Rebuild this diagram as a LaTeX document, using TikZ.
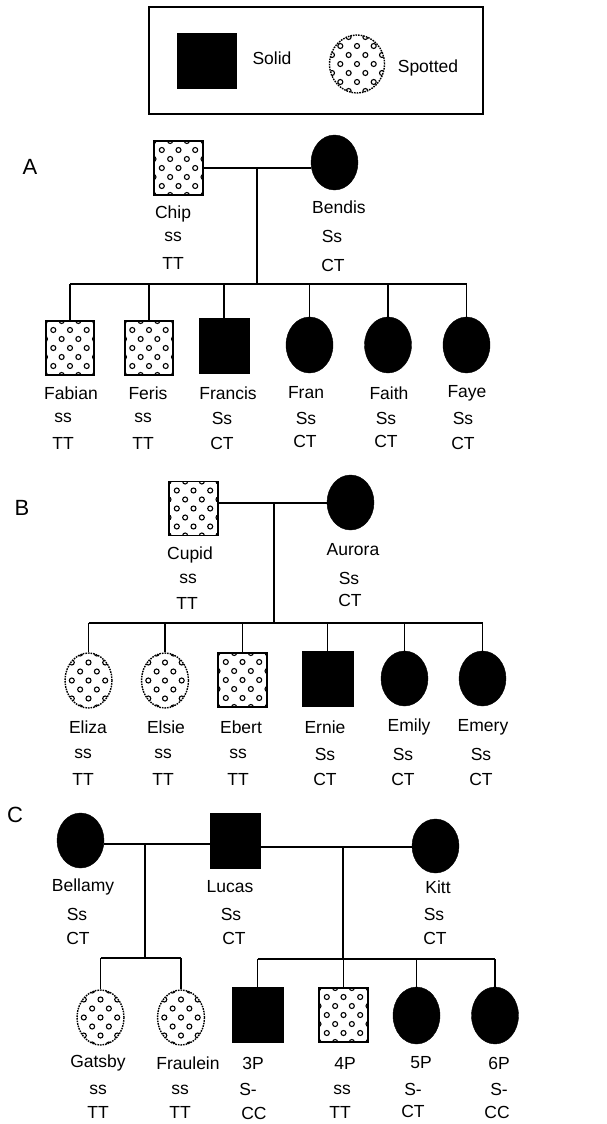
\documentclass[tikz,border=0pt]{standalone}
\usepackage{fontspec}
\setmainfont{Liberation Sans}
\usetikzlibrary{shapes.geometric}
\tikzset{
  dots/.style={path picture={
    \foreach \yy in {-36,-18,0,18,36}{\foreach \xx in {-33.4,-16.7,0,16.7,33.4}{
      \draw[solid, line width=1.1pt] ([shift={(\xx,\yy)}]path picture bounding box.center) circle (2.5pt);}}
    \foreach \yy in {-27,-9,9,27}{\foreach \xx in {-25,-8.35,8.35,25}{
      \draw[solid, line width=1.1pt] ([shift={(\xx,\yy)}]path picture bounding box.center) circle (2.5pt);}}
  }},
  solidsq/.style={draw, fill=black, inner sep=0pt, minimum width=50pt, minimum height=55pt},
  spotsq/.style={draw, line width=1.6pt, fill=white, inner sep=0pt, minimum width=49pt, minimum height=54pt, dots},
  solidci/.style={ellipse, draw, fill=black, inner sep=0pt, minimum width=47pt, minimum height=55pt},
  spotci/.style={ellipse, draw, line width=1.4pt, dash pattern=on 1.6pt off 1pt, inner sep=0pt, minimum width=47pt, minimum height=55pt, dots},
  lbl/.style={inner sep=0pt, font=\fontsize{17.5}{20}\selectfont},
  sec/.style={inner sep=0pt, font=\fontsize{22}{24}\selectfont},
  ln/.style={line width=1.3pt}
}
\begin{document}
\begin{tikzpicture}[x=1pt,y=-1pt]
\useasboundingbox (0,0) rectangle (606,1124);
% legend
\draw[line width=1.5pt] (149,7) rectangle (483,114);
\node[solidsq, minimum width=59pt] (lsolid) at (206.5,60.5) {};
\node[lbl] (tsolid) at (272,58) {Solid};
\node[spotci, minimum width=55pt, minimum height=58pt] (lspot) at (357,64) {};
\node[lbl] (tspot) at (428,68) {Spotted};

% ===== A =====
\node[sec] (A) at (30,167) {A};
\node[spotsq] (Chip) at (178.5,168) {};
\node[solidci] (Bendis) at (334.5,162.5) {};
\coordinate (mA) at (257,168);
\coordinate (sA) at (257,284);
\draw[ln] (Chip.east |- mA) -- (Bendis.west |- mA);
\draw[ln] (mA) -- (sA);
\node[lbl] (ChipN) at (173,214) {Chip};
\node[lbl] (ChipG1) at (173,237) {ss};
\node[lbl] (ChipG2) at (173,263) {TT};
\node[lbl] (BendisN) at (339,207) {Bendis};
\node[lbl] (BendisG1) at (332,236) {Ss};
\node[lbl] (BendisG2) at (333,265) {CT};

\node[spotsq, minimum width=48pt] (Fabian) at (70,348) {};
\node[spotsq, minimum width=48pt] (Feris) at (149,348) {};
\node[solidsq] (Francis) at (224,345.5) {};
\node[solidci, minimum height=56pt] (Fran) at (309.5,345) {};
\node[solidci, minimum height=56pt] (Faith) at (388,345) {};
\node[solidci, minimum height=56pt] (Faye) at (466.5,345) {};
\draw[ln] (Fabian.north |- sA) -- (Faye.north |- sA);
\foreach \c in {Fabian,Feris,Francis,Fran,Faith,Faye}{\draw[ln] (\c.north |- sA) -- (\c.north);}
\node[lbl] (FabianN) at (71,393) {Fabian};
\node[lbl] (FabianG1) at (63,418) {ss};
\node[lbl] (FabianG2) at (63,443) {TT};
\node[lbl] (FerisN) at (148,393) {Feris};
\node[lbl] (FerisG1) at (143,418) {ss};
\node[lbl] (FerisG2) at (143,443) {TT};
\node[lbl] (FrancisN) at (228,393) {Francis};
\node[lbl] (FrancisG1) at (222,418) {Ss};
\node[lbl] (FrancisG2) at (222,443) {CT};
\node[lbl] (FranN) at (306,393) {Fran};
\node[lbl] (FranG1) at (306,418) {Ss};
\node[lbl] (FranG2) at (305,441) {CT};
\node[lbl] (FaithN) at (389,393) {Faith};
\node[lbl] (FaithG1) at (386,418) {Ss};
\node[lbl] (FaithG2) at (386,441) {CT};
\node[lbl] (FayeN) at (467,393) {Faye};
\node[lbl] (FayeG1) at (463,418) {Ss};
\node[lbl] (FayeG2) at (463,443) {CT};

% ===== B =====
\node[sec] (B) at (22,508) {B};
\node[spotsq] (Cupid) at (193.5,508.5) {};
\node[solidci] (Aurora) at (350.5,502.5) {};
\coordinate (mB) at (274,503);
\coordinate (sB) at (274,623);
\draw[ln] (Cupid.east |- mB) -- (Aurora.west |- mB);
\draw[ln] (mB) -- (sB);
\node[lbl] (CupidN) at (190,555) {Cupid};
\node[lbl] (CupidG1) at (188,579) {ss};
\node[lbl] (CupidG2) at (187,603) {TT};
\node[lbl] (AuroraN) at (353,550) {Aurora};
\node[lbl] (AuroraG1) at (349,578) {Ss};
\node[lbl] (AuroraG2) at (350,600) {CT};

\node[spotci] (Eliza) at (88.5,680.5) {};
\node[spotci] (Elsie) at (165,680.5) {};
\node[spotsq] (Ebert) at (242.5,680) {};
\node[solidsq, minimum width=51pt] (Ernie) at (327.5,678.5) {};
\node[solidci] (Emily) at (404.5,678.5) {};
\node[solidci] (Emery) at (482.5,678.5) {};
\draw[ln] (Eliza.north |- sB) -- (Emery.north |- sB);
\foreach \c in {Eliza,Elsie,Ebert,Ernie,Emily,Emery}{\draw[ln] (\c.north |- sB) -- (\c.north);}
\node[lbl] (ElizaN) at (88,727) {Eliza};
\node[lbl] (ElizaG1) at (83,754) {ss};
\node[lbl] (ElizaG2) at (83,779) {TT};
\node[lbl] (ElsieN) at (166,727) {Elsie};
\node[lbl] (ElsieG1) at (163,754) {ss};
\node[lbl] (ElsieG2) at (163,779) {TT};
\node[lbl] (EbertN) at (241,727) {Ebert};
\node[lbl] (EbertG1) at (238,754) {ss};
\node[lbl] (EbertG2) at (238,779) {TT};
\node[lbl] (ErnieN) at (325,727) {Ernie};
\node[lbl] (ErnieG1) at (325,754) {Ss};
\node[lbl] (ErnieG2) at (325,779) {CT};
\node[lbl] (EmilyN) at (409,727) {Emily};
\node[lbl] (EmilyG1) at (403,754) {Ss};
\node[lbl] (EmilyG2) at (403,779) {CT};
\node[lbl] (EmeryN) at (483,727) {Emery};
\node[lbl] (EmeryG1) at (481,754) {Ss};
\node[lbl] (EmeryG2) at (481,779) {CT};

% ===== C =====
\node[sec] (C) at (15,815) {C};
\node[solidci] (Bellamy) at (80.5,840.5) {};
\node[solidsq] (Lucas) at (235,840.5) {};
\node[solidci, minimum height=54pt] (Kitt) at (435.5,846) {};
\coordinate (mC1) at (145,844);
\coordinate (sC1) at (145,958);
\coordinate (mC2) at (343,847);
\coordinate (sC2) at (343,959);
\draw[ln] (Bellamy.east |- mC1) -- (Lucas.west |- mC1);
\draw[ln] (Lucas.east |- mC2) -- (Kitt.west |- mC2);
\draw[ln] (mC1) -- (sC1);
\draw[ln] (mC2) -- (sC2);
\node[lbl] (BellamyN) at (83,887) {Bellamy};
\node[lbl] (BellamyG1) at (77,914) {Ss};
\node[lbl] (BellamyG2) at (78,938) {CT};
\node[lbl] (LucasN) at (230,887) {Lucas};
\node[lbl] (LucasG1) at (231,914) {Ss};
\node[lbl] (LucasG2) at (234,938) {CT};
\node[lbl] (KittN) at (438,887) {Kitt};
\node[lbl] (KittG1) at (434,914) {Ss};
\node[lbl] (KittG2) at (435,938) {CT};

\node[spotci] (Gatsby) at (100.5,1017.5) {};
\node[spotci] (Fraulein) at (181,1017.5) {};
\draw[ln] (Gatsby.north |- sC1) -- (Fraulein.north |- sC1);
\foreach \c in {Gatsby,Fraulein}{\draw[ln] (\c.north |- sC1) -- (\c.north);}
\node[solidsq, minimum width=51pt] (P3) at (257.5,1014.5) {};
\node[spotsq] (P4) at (343.5,1015) {};
\node[solidci, minimum height=57pt] (P5) at (416.5,1015.5) {};
\node[solidci, minimum height=57pt] (P6) at (495,1015.5) {};
\draw[ln] (P3.north |- sC2) -- (P6.north |- sC2);
\foreach \c in {P3,P4,P5,P6}{\draw[ln] (\c.north |- sC2) -- (\c.north);}
\node[lbl] (GatsbyN) at (98,1063) {Gatsby};
\node[lbl] (GatsbyG1) at (98,1090) {ss};
\node[lbl] (GatsbyG2) at (98,1112) {TT};
\node[lbl] (FrauleinN) at (188,1063) {Fraulein};
\node[lbl] (FrauleinG1) at (180,1090) {ss};
\node[lbl] (FrauleinG2) at (180,1112) {TT};
\node[lbl] (P3N) at (253,1063) {3P};
\node[lbl] (P3G1) at (248,1089) {S-};
\node[lbl] (P3G2) at (254,1113) {CC};
\node[lbl] (P4N) at (345,1063) {4P};
\node[lbl] (P4G1) at (342,1090) {ss};
\node[lbl] (P4G2) at (340,1112) {TT};
\node[lbl] (P5N) at (421,1063) {5P};
\node[lbl] (P5G1) at (413,1089) {S-};
\node[lbl] (P5G2) at (413,1111) {CT};
\node[lbl] (P6N) at (499,1063) {6P};
\node[lbl] (P6G1) at (499,1089) {S-};
\node[lbl] (P6G2) at (497,1112) {CC};
\end{tikzpicture}
\end{document}
